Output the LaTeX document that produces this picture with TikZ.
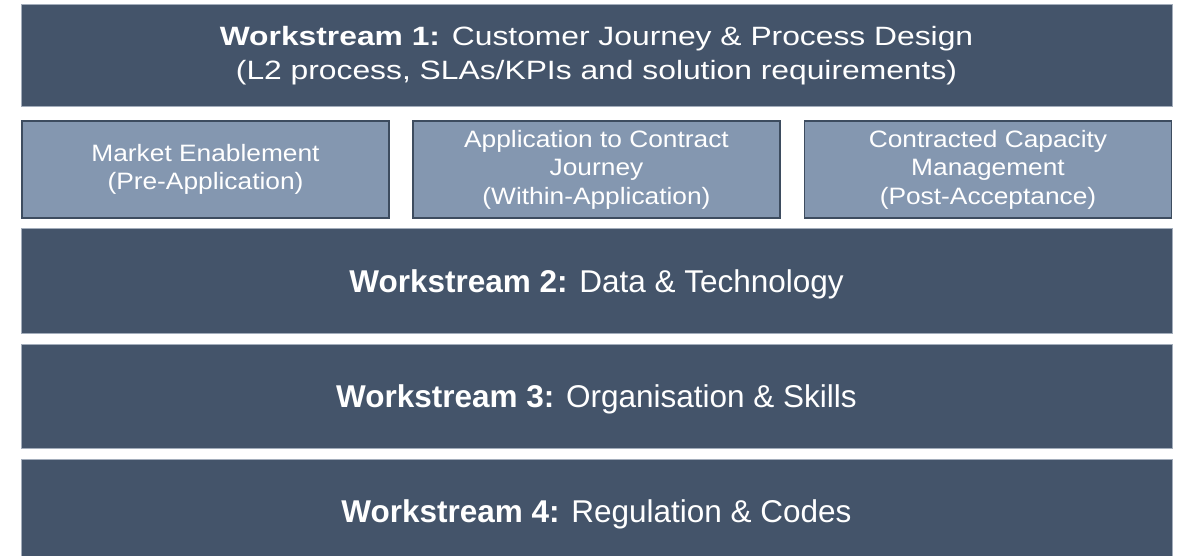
\documentclass[tikz,border=0pt]{standalone}
\usepackage{fontspec}
\newfontfamily\arialfont{Liberation Sans}
\newfontfamily\wsonefont[FakeStretch=1.2]{Liberation Sans}
\newfontfamily\phasefont[FakeStretch=1.11]{Liberation Sans}
\usepackage{tikz}
\definecolor{slatedark}{HTML}{44546A}
\definecolor{slatelight}{HTML}{8497B0}
\definecolor{slateedge}{HTML}{A3ADBB}
\begin{document}
\begin{tikzpicture}[x=1pt, y=-1pt,
  wsbox/.style = {draw=slateedge, line width=1pt, fill=slatedark, text=white,
    minimum width=1151pt, minimum height=104pt, inner sep=0pt, outer sep=0pt,
    text depth=0pt, font=\arialfont\fontsize{31.5}{34}\selectfont},
  phasebox/.style = {draw=slatedark!90!black, line width=1.5pt, fill=slatelight, text=white,
    minimum width=367pt, minimum height=97pt, inner sep=0pt, outer sep=0pt, align=center,
    font=\phasefont\fontsize{23.7}{28.5}\selectfont}]
\useasboundingbox (0,0) rectangle (1184,556);
\clip (0,0) rectangle (1184,556);

% workstream 1 and its three phases
\node[wsbox, minimum height=102pt, text depth=, align=center,
  font=\wsonefont\fontsize{26.5}{34}\selectfont] (ws1) at (596.5,56)
  {\textbf{Workstream 1:} Customer Journey \& Process Design\\
   (L2 process, SLAs/KPIs and solution requirements)};
\node[phasebox] (pre) at (205.5,169.5) {Market Enablement\\(Pre-Application)};
\node[phasebox] (within) at (596.5,169.5) {Application to Contract\\Journey\\(Within-Application)};
\node[phasebox] (post) at (988,169.5) {Contracted Capacity\\Management\\(Post-Acceptance)};

% workstreams 2 to 4
\node[wsbox] (ws2) at (596.5,281) {\textbf{Workstream 2:} Data \& Technology};
\node[wsbox] (ws3) at (596.5,396) {\textbf{Workstream 3:} Organisation \& Skills};
\node[wsbox] (ws4) at (596.5,511) {\textbf{Workstream 4:} Regulation \& Codes};

\end{tikzpicture}
\end{document}
